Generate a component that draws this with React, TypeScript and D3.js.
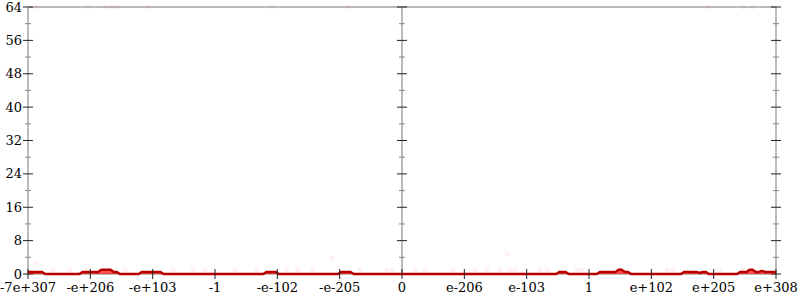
import React from "react";
import * as d3 from "d3";

// x positions are in "ordered float" units: -6 .. 6, 0 at the center
const xTickPos = [-6, -5, -4, -3, -2, -1, 0, 1, 2, 3, 4, 5, 6];
const xTickLabels = ["-7e+307", "-e+206", "-e+103", "-1", "-e-102", "-e-205", "0", "e-206", "e-103", "1", "e+102", "e+205", "e+308"];
const yMajorTicks = [0, 8, 16, 24, 32, 40, 48, 56, 64];
const yMinorTicks = [4, 12, 20, 28, 36, 44, 52, 60];

// 240 histogram bins across the domain
const binCounts = [
  0.5, 0.5, 0.5, 0.5, 0.5, 0, 0, 0, 0, 0, 0, 0, 0, 0, 0, 0, 0, 0.5, 0.5, 0.5,
  0.5, 0.5, 0.5, 1, 1, 1, 1, 0.5, 0.5, 0, 0, 0, 0, 0, 0, 0, 0.5, 0.5, 0.5, 0.5,
  0.5, 0.5, 0.5, 0, 0, 0, 0, 0, 0, 0, 0, 0, 0, 0, 0, 0, 0, 0, 0, 0,
  0, 0, 0, 0, 0, 0, 0, 0, 0, 0, 0, 0, 0, 0, 0, 0, 0.5, 0.5, 0.5, 0.5,
  0, 0, 0, 0, 0, 0, 0, 0, 0, 0, 0, 0, 0, 0, 0, 0, 0, 0, 0, 0,
  0.5, 0.5, 0.5, 0.5, 0, 0, 0, 0, 0, 0, 0, 0, 0, 0, 0, 0, 0, 0, 0, 0,
  0, 0, 0, 0, 0, 0, 0, 0, 0, 0, 0, 0, 0, 0, 0, 0, 0, 0, 0, 0,
  0, 0, 0, 0, 0, 0, 0, 0, 0, 0, 0, 0, 0, 0, 0, 0, 0, 0, 0, 0,
  0, 0, 0, 0, 0, 0, 0, 0, 0, 0, 0.5, 0.5, 0.5, 0, 0, 0, 0, 0, 0, 0,
  0, 0, 0, 0.5, 0.5, 0.5, 0.5, 0.5, 0.5, 1, 1, 0.5, 0.5, 0, 0, 0, 0, 0, 0, 0,
  0, 0, 0, 0, 0, 0, 0, 0, 0, 0, 0.5, 0.5, 0.5, 0.5, 0.5, 0.25, 0.5, 0.5, 0, 0,
  0, 0, 0, 0, 0, 0, 0, 0, 0.5, 0.5, 0.5, 1, 1, 0.5, 0.5, 0.75, 0.5, 0.5, 0.5, 0.5,
];

// faint jittered sample points
const dotX = [-5.86, -5.6, -5.33, -5.05, -4.44, -3.67, -3.35, -3.16, -2.68, -2.33, -1.85, -1.67, -1.43, -1.12, -0.67, -0.24, -0.16, 0.21, 0.37, 0.82, 1.17, 1.36, 1.57, 1.69, 1.73, 1.81, 2.21, 2.33, 2.81, 2.89, 3.5, 4.25, 4.35, 5.1, 5.47,
  -5.86, -5.04, -4.76, -4.65, -4.57, -4.07, -2.09, -0.87, 4.91, 5.47, 5.63];
const dotY = [2.6, 1, 1, 1, 1, 1, 1, 1, 1, 1, 1, 1, 1, 3.8, 1, 1, 1, 1, 1, 1, 1, 1, 1, 4.8, 1, 1, 1, 1, 1, 1, 1, 1, 1, 1, 1,
  64, 64, 64, 64, 64, 64, 64, 64, 64, 64, 64];

const W = 800;
const H = 300;
const left = 28;
const right = 776;
const top = 7;
const bottom = 274;

export default function App() {
  const x = d3.scaleLinear().domain([-6, 6]).range([left, right]);
  const y = d3.scaleLinear().domain([0, 64]).range([bottom, top]);
  const nb = binCounts.length;
  const binW = 12 / nb;
  const pts: [number, number][] = binCounts.map((c, i) => [-6 + (i + 0.5) * binW, c]);
  const full: [number, number][] = [[-6, binCounts[0]], ...pts, [6, binCounts[nb - 1]]];
  const area = d3
    .area<[number, number]>()
    .x((d) => x(d[0]))
    .y0(y(0))
    .y1((d) => y(d[1]));
  const line = d3
    .line<[number, number]>()
    .x((d) => x(d[0]))
    .y((d) => y(d[1]));
  const axisXs = [-6, 0, 6];
  const font = "'DejaVu Serif', serif";

  return (
    <svg width={W} height={H} style={{ position: "fixed", left: 0, top: 0, background: "#fff" }}>
      {/* frame */}
      <line x1={left} x2={right} y1={top} y2={top} stroke="#bbb" strokeWidth={2} />
      <line x1={left} x2={right} y1={bottom} y2={bottom} stroke="#bbb" strokeWidth={2} />
      {axisXs.map((a) => (
        <line key={"ax" + a} x1={x(a)} x2={x(a)} y1={top} y2={bottom} stroke="#bbb" strokeWidth={2} />
      ))}
      {/* dots */}
      {dotX.map((dx, i) => (
        <circle key={"d" + i} cx={x(dx)} cy={y(dotY[i])} r={2.5} fill="#ff3333" fillOpacity={0.07} />
      ))}
      {/* y ticks */}
      {axisXs.map((a) => (
        <g key={"yt" + a}>
          {yMajorTicks.map((t) => (
            <line key={t} x1={x(a) - 5} x2={x(a) + 5} y1={y(t)} y2={y(t)} stroke="#222" strokeWidth={1} />
          ))}
          {yMinorTicks.map((t) => (
            <line key={"m" + t} x1={x(a) - 3} x2={x(a) + 3} y1={y(t)} y2={y(t)} stroke="#888" strokeWidth={1} />
          ))}
        </g>
      ))}
      {yMajorTicks.map((t) => (
        <text key={"yl" + t} x={left - 6} y={y(t)} dy="0.35em" textAnchor="end" fontFamily={font} fontSize={13} fill="#000">
          {t}
        </text>
      ))}
      {/* histogram */}
      <path d={area(full) || ""} fill="#ff1a1a" fillOpacity={0.75} />
      <path d={line(full) || ""} fill="none" stroke="#b80000" strokeWidth={2.5} strokeLinejoin="round" />
      {/* x ticks */}
      {xTickPos.map((t, i) => (
        <g key={"xt" + t}>
          <line x1={x(t)} x2={x(t)} y1={bottom - 5} y2={bottom + 5} stroke="#222" strokeWidth={1} />
          <text x={x(t)} y={bottom + 18} textAnchor="middle" fontFamily={font} fontSize={13} fill="#000">
            {xTickLabels[i]}
          </text>
        </g>
      ))}
    </svg>
  );
}
